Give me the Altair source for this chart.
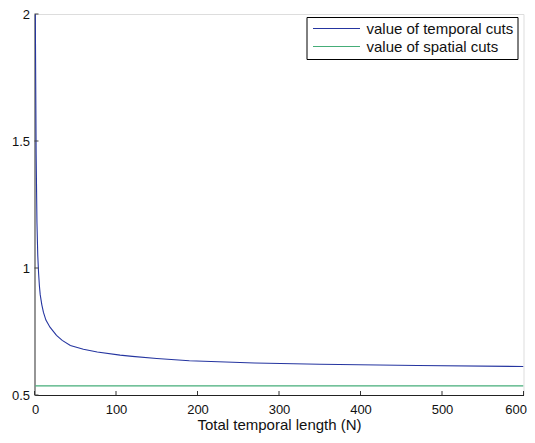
import altair as alt
import pandas as pd

# Data
N_temporal = [1, 2, 3, 4, 5, 6, 7, 9, 11, 14, 19, 27, 34, 44, 60, 77, 105, 120,
              150, 190, 270, 350, 470, 600]
v_temporal = [2.0, 1.45, 1.18, 1.05, 0.98, 0.93, 0.895, 0.855, 0.825, 0.795, 0.767,
              0.735, 0.715, 0.695, 0.68, 0.669, 0.657, 0.652, 0.644, 0.635, 0.626,
              0.621, 0.616, 0.612]
N_spatial = [1, 600]
v_spatial = [0.536, 0.536]
series_names = ["value of temporal cuts", "value of spatial cuts"]
series_colors = ["#2535a0", "#45ad78"]
x_ticks = [0, 100, 200, 300, 400, 500, 600]
y_ticks = [0.5, 1, 1.5, 2]

df = pd.concat([
    pd.DataFrame({"N": N_temporal, "value": v_temporal, "series": series_names[0]}),
    pd.DataFrame({"N": N_spatial, "value": v_spatial, "series": series_names[1]}),
])

W, H = 489, 381
FONT = "Liberation Sans"
XTITLE = "Total temporal length (N)"

xscale = alt.Scale(domain=[0, 600], nice=False)
yscale = alt.Scale(domain=[0.5, 2], nice=False)

lines = alt.Chart(df).mark_line(strokeWidth=1.1, clip=True).encode(
    x=alt.X("N:Q", scale=xscale, title=XTITLE,
            axis=alt.Axis(values=x_ticks, ticks=False, grid=False, labelPadding=8,
                          labelFlush=True, labelFlushOffset=3, labelFontSize=13,
                          titleFontSize=15, titlePadding=1,
                          domainColor="#222222", domainWidth=1.2,
                          labelColor="#111111", titleColor="#111111",
                          labelFont=FONT, titleFont=FONT, titleFontWeight="normal")),
    y=alt.Y("value:Q", scale=yscale, title=None,
            axis=alt.Axis(values=y_ticks, format="~g", ticks=False, grid=False,
                          labelPadding=5, labelFontSize=13, labelFlush=False,
                          domainColor="#7f7f7f", domainWidth=1.6,
                          labelColor="#111111", labelFont=FONT)),
    color=alt.Color("series:N",
                    scale=alt.Scale(domain=series_names, range=series_colors),
                    legend=alt.Legend(title=None, orient="none", legendX=272, legendY=3,
                                      symbolType="M-1,0H8.4", symbolSize=100,
                                      symbolStrokeWidth=1.2, labelFontSize=15,
                                      labelFont=FONT, labelColor="#111111",
                                      strokeColor="#000000", fillColor="white",
                                      padding=4, rowPadding=2, labelOffset=41,
                                      cornerRadius=0)),
)

xt = pd.DataFrame({"N": x_ticks})
yt = pd.DataFrame({"value": y_ticks})

xtick_layer = alt.Chart(xt).mark_rule(color="#333333", strokeWidth=1).encode(
    x=alt.X("N:Q", scale=xscale, title=XTITLE),
    y=alt.value(H), y2=alt.value(H - 4),
)
ytick_layer = alt.Chart(yt).mark_rule(color="#444444", strokeWidth=1).encode(
    y=alt.Y("value:Q", scale=yscale, title=None),
    x=alt.value(0), x2=alt.value(4),
)

chart = alt.layer(lines, xtick_layer, ytick_layer).properties(
    width=W, height=H,
    autosize=alt.AutoSizeParams(type="none"),
    padding={"left": 26.5, "top": 6, "right": 3.5, "bottom": 40},
).configure_view(stroke=None).configure(background="white")

chart.save("out.html", embed_options={"renderer": "svg", "actions": False})
